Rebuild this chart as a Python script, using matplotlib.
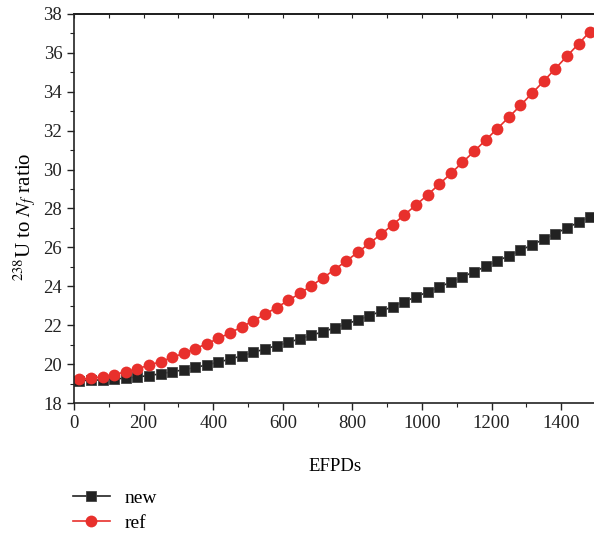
import matplotlib.pyplot as plt
from matplotlib.ticker import MultipleLocator

# EFPD sample points (shared by both series)
efpd = [15, 48, 82, 115, 148, 182, 215, 249, 282, 315, 349, 382, 415, 449, 482,
        515, 549, 582, 616, 649, 682, 716, 749, 782, 816, 849, 883, 916, 949, 983,
        1016, 1049, 1083, 1116, 1150, 1183, 1216, 1250, 1283, 1316, 1350, 1383,
        1416, 1450, 1483]

ratio_new = [19.15, 19.17, 19.19, 19.23, 19.28, 19.34, 19.41, 19.50, 19.60, 19.71,
             19.83, 19.96, 20.10, 20.26, 20.42, 20.60, 20.78, 20.95, 21.12, 21.30,
             21.48, 21.67, 21.86, 22.06, 22.27, 22.49, 22.72, 22.96, 23.21, 23.46,
             23.71, 23.96, 24.22, 24.48, 24.75, 25.02, 25.30, 25.57, 25.85, 26.13,
             26.42, 26.71, 27.00, 27.29, 27.58]

ratio_ref = [19.22, 19.27, 19.36, 19.46, 19.60, 19.76, 19.94, 20.13, 20.34, 20.56,
             20.80, 21.05, 21.32, 21.61, 21.91, 22.23, 22.56, 22.91, 23.27, 23.64,
             24.03, 24.44, 24.86, 25.30, 25.75, 26.21, 26.69, 27.17, 27.67, 28.18,
             28.70, 29.24, 29.80, 30.37, 30.94, 31.52, 32.10, 32.70, 33.30, 33.92,
             34.55, 35.19, 35.82, 36.47, 37.10]

plt.rcParams['font.family'] = ['Liberation Serif', 'DejaVu Serif']
plt.rcParams['mathtext.fontset'] = 'stix'

fig = plt.figure(figsize=(5.94, 5.36), dpi=100)
ax = fig.add_axes([74 / 594, 1 - 403 / 536, 522 / 594, 389 / 536])

ax.plot(efpd, ratio_new, color='#222222', marker='s', markersize=7.5,
        markeredgecolor='#444444', markeredgewidth=0.6, linewidth=1.2, label='new')
ax.plot(efpd, ratio_ref, color='#e8302c', marker='o', markersize=8.5,
        markeredgewidth=0, linewidth=1.2, label='ref')

ax.set_xlim(0, 1500)
ax.set_ylim(18, 38)
ax.xaxis.set_major_locator(MultipleLocator(200))
ax.xaxis.set_minor_locator(MultipleLocator(100))
ax.yaxis.set_major_locator(MultipleLocator(2))
ax.yaxis.set_minor_locator(MultipleLocator(1))

for side in ['left', 'bottom', 'top']:
    ax.spines[side].set_linewidth(1.2)
    ax.spines[side].set_color('#222222')
ax.spines['right'].set_visible(False)

ax.tick_params(which='major', direction='out', length=5, width=1.0, pad=3.5,
               labelsize=13.5, colors='#222222')
ax.tick_params(which='minor', direction='out', length=3, width=0.8, colors='#222222')

top = ax.secondary_xaxis('top')
top.xaxis.set_major_locator(MultipleLocator(200))
top.xaxis.set_minor_locator(MultipleLocator(100))
top.tick_params(which='both', direction='in', length=3, width=0.8,
                labeltop=False, colors='#222222')
top.spines['top'].set_linewidth(1.2)

ax.set_xlabel('EFPDs', fontsize=13.5, labelpad=19)
ax.set_ylabel('$^{238}$U to $N_f$ ratio', fontsize=15)
ax.yaxis.set_label_coords(-0.068, 0.478)

fig.legend(loc='upper left', bbox_to_anchor=(55 / 594, 1 - 472 / 536),
           frameon=False, fontsize=14, handlelength=1.95, handletextpad=0.75,
           labelspacing=0.36)

fig.savefig('out.png', dpi=100)
